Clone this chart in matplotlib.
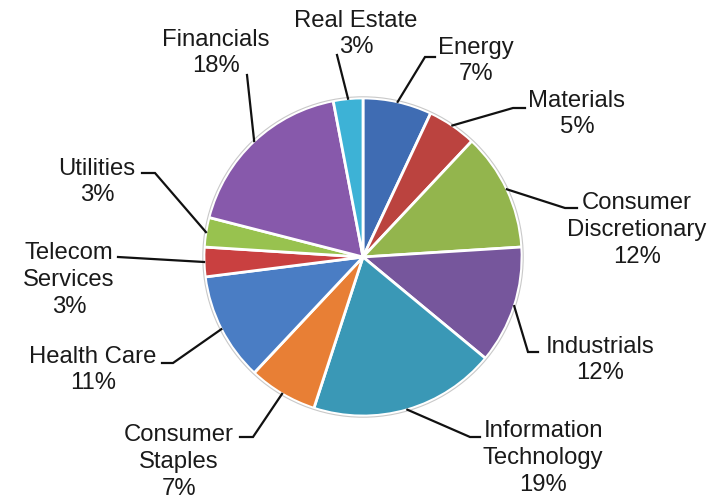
import matplotlib
matplotlib.use("Agg")
import matplotlib.pyplot as plt
import numpy as np

W, H = 716, 501

sectors = ["Energy", "Materials", "Consumer\nDiscretionary", "Industrials",
           "Information\nTechnology", "Consumer\nStaples", "Health Care",
           "Telecom\nServices", "Utilities", "Financials", "Real Estate"]
weights = [7, 5, 12, 12, 19, 7, 11, 3, 3, 18, 3]
colors = ["#3f6cb3", "#bb433f", "#93b54d", "#76569c", "#3a98b6", "#e87f35",
          "#4a7dc4", "#c94040", "#98c24f", "#8759ab", "#3db2d6"]

# label block centre, elbow point and line end (pixels from top-left)
label_xy = [(476, 61), (577, 114), (637, 230), (600, 360), (543, 458),
            (179, 462), (93, 370), (69, 280), (97, 182), (216, 53), (356, 34)]
knees = [(425, 57), (513, 108), (565, 208), (528, 352), (470, 437),
         (253, 437), (173, 363), (118, 257), (155, 173), (247, 75), (337, 55)]
ends = [(435, 57), (525, 108), (577, 208), (538, 352), (480, 437),
        (240, 437), (162, 363), (118, 257), (142, 173), (247, 75), (337, 55)]

cx, cy, r = 363, 257, 159


def fy(y):
    return H - y


fig = plt.figure(figsize=(W / 100, H / 100), dpi=100)
ax = fig.add_axes([0, 0, 1, 1])

wedges, _ = ax.pie(weights, colors=colors, startangle=90, counterclock=False,
                   center=(cx, fy(cy)), radius=r,
                   wedgeprops=dict(edgecolor="white", linewidth=2))
ax.add_patch(plt.Circle((cx, fy(cy)), r + 1.2, fill=False,
                        edgecolor="#c9c9c9", linewidth=0.8))

for w, name, pct, (lx, ly), (kx, ky), (ex, ey) in zip(
        wedges, sectors, weights, label_xy, knees, ends):
    mid = np.deg2rad((w.theta1 + w.theta2) / 2)
    ax_x = w.center[0] + w.r * np.cos(mid)
    ax_y = w.center[1] + w.r * np.sin(mid)
    ax.plot([ax_x, kx, ex], [ax_y, fy(ky), fy(ey)], color="#111111",
            linewidth=1.6, solid_joinstyle="miter")
    ax.text(lx, fy(ly), f"{name}\n{pct}%", ha="center", va="center",
            fontsize=17.2, family="Liberation Sans", color="#1a1a1a",
            linespacing=1.28)

ax.set_xlim(0, W)
ax.set_ylim(0, H)
ax.set_aspect("equal")
ax.axis("off")

fig.savefig("out.png", dpi=100)
